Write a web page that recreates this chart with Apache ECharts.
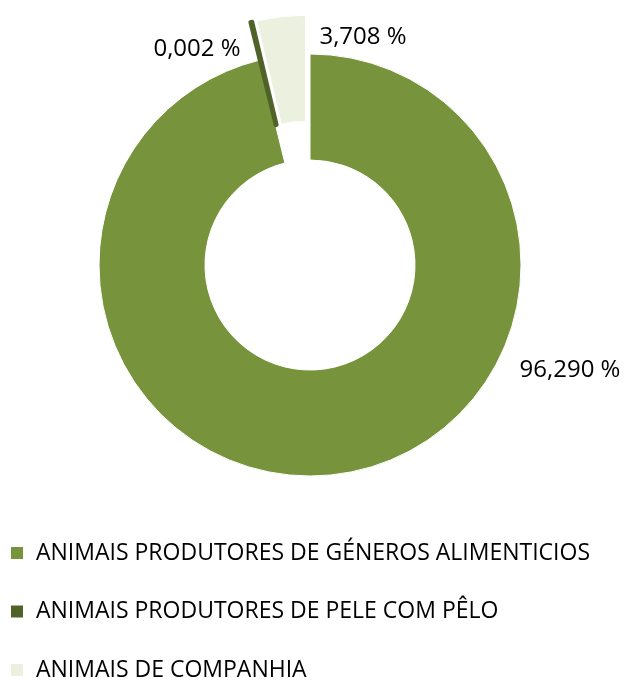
<!DOCTYPE html>
<html>
<head>
<meta charset="utf-8">
<script src="https://cdn.jsdelivr.net/npm/echarts@6/dist/echarts.min.js"></script>
<style>
    html, body { margin: 0; padding: 0; background: #fff; }
    #chart { width: 624px; height: 682px; }
</style>
</head>
<body>
<div id="chart"></div>
<script>
    // categorias e valores (%)
    const categories = [
        'ANIMAIS PRODUTORES DE GÉNEROS ALIMENTICIOS',
        'ANIMAIS PRODUTORES DE PELE COM PÊLO',
        'ANIMAIS DE COMPANHIA'
    ];
    const values = [96.290, 0.002, 3.708];
    const exploded = [false, true, true];

    const colors = ['#77933C', '#4F6228', '#EBF1DE'];
    const fontFamily = '"Open Sans", sans-serif';
    // posição dos rótulos (como no original)
    const labelPos = [[570, 370], [197, 49], [363, 37]];

    const chart = echarts.init(document.getElementById('chart'));

    const pieBase = {
        type: 'pie',
        center: [310, 265],
        radius: [105, 211],
        startAngle: 90,
        clockwise: true,
        minAngle: 0.5,
        emphasis: { disabled: true }
    };

    // a fatia quase nula aparece como um traço espesso
    function sliceStyle(i) {
        const tiny = values[i] < 0.1;
        return {
            color: colors[i],
            borderColor: tiny ? colors[i] : '#fff',
            borderWidth: tiny ? 4 : 1
        };
    }

    const option = {
        animation: false,
        color: colors,
        legend: {
            orient: 'vertical',
            left: 6,
            top: 536,
            height: 160,
            icon: 'rect',
            itemWidth: 12,
            itemHeight: 12,
            itemGap: 34.5,
            selectedMode: false,
            data: categories,
            itemStyle: { borderWidth: 0 },
            textStyle: {
                fontFamily: fontFamily,
                fontSize: 23,
                color: '#000',
                lineHeight: 24,
                padding: [0, 0, 0, 8]
            }
        },
        series: [
            // fatias (com as duas pequenas destacadas)
            Object.assign({}, pieBase, {
                selectedMode: 'multiple',
                selectedOffset: 39,
                label: { show: false },
                labelLine: { show: false },
                data: categories.map(function (name, i) {
                    return {
                        name: name,
                        value: values[i],
                        selected: exploded[i],
                        itemStyle: sliceStyle(i),
                        select: { itemStyle: sliceStyle(i) }
                    };
                })
            }),
            // rótulos de percentagem
            Object.assign({}, pieBase, {
                silent: true,
                selectedMode: false,
                itemStyle: { color: 'rgba(0,0,0,0)' },
                label: {
                    show: true,
                    position: 'outside',
                    fontFamily: fontFamily,
                    fontSize: 24,
                    color: '#000',
                    formatter: function (p) {
                        return p.value.toFixed(3).replace('.', ',') + ' %';
                    }
                },
                labelLine: { show: false },
                labelLayout: function (params) {
                    const p = labelPos[params.dataIndex];
                    return { x: p[0], y: p[1], align: 'center', verticalAlign: 'middle' };
                },
                data: categories.map(function (name, i) {
                    return { name: name, value: values[i] };
                })
            })
        ]
    };

    chart.setOption(option);
</script>
</body>
</html>
